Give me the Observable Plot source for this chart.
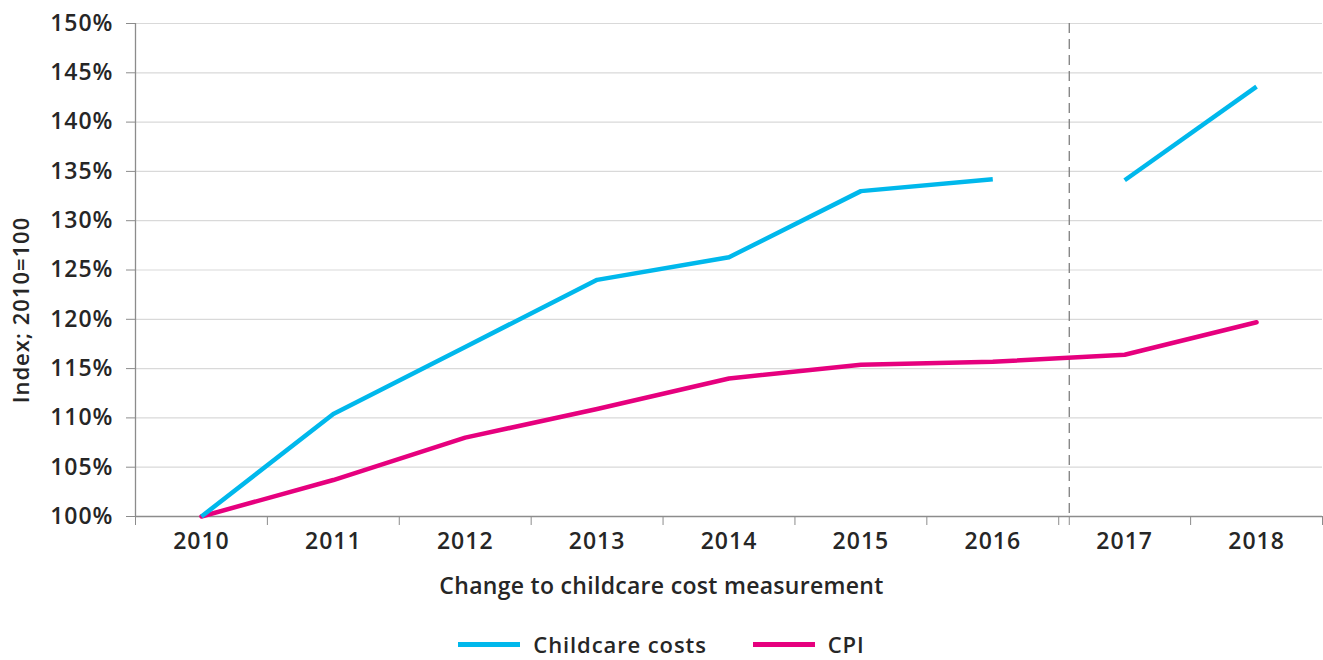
<!DOCTYPE html>
<html>
<head>
<meta charset="utf-8">
<script src="https://cdn.jsdelivr.net/npm/d3@7"></script>
<script src="https://cdn.jsdelivr.net/npm/@observablehq/plot@0.6"></script>
<style>
  html, body { margin: 0; background: #fff; font-family: "Open Sans", Lato, sans-serif; overflow: hidden; }
  #wrap { position: relative; width: 1323px; height: 660px; }
  #chart { position: absolute; left: 0; top: 0; }
  #xlabel { position: absolute; left: 0; top: 572px; width: 1323px; text-align: center; font-weight: 600; font-size: 23px; letter-spacing: 0.3px; color: #262626; line-height: 26px; }
  #legend { position: absolute; left: 0; top: 631px; width: 1323px; display: flex; justify-content: center; align-items: center; font-size: 22px; letter-spacing: 0.9px; font-weight: 600; color: #262626; line-height: 26px; }
  .item { display: flex; align-items: center; margin: 0 23px; }
  .sw { width: 62px; height: 5px; margin-right: 13px; }
</style>
</head>
<body>
<div id="wrap">
<div id="chart"></div>
<div id="xlabel">Change to childcare cost measurement</div>
<div id="legend"></div>
</div>
<script>
const years = [2010, 2011, 2012, 2013, 2014, 2015, 2016, 2017, 2018];
const childcare = [100, 110.4, 117.2, 124.0, 126.3, 133.0, 134.2, 134.1, 143.6];
const cpi = [100, 103.7, 108.0, 110.9, 114.0, 115.4, 115.7, 116.4, 119.7];
const seriesNames = ["Childcare costs", "CPI"];
const seriesColors = ["#00B8EC", "#E6007E"];
const measurementChange = 2016.58; // position of the dashed break
const yTicks = [100, 105, 110, 115, 120, 125, 130, 135, 140, 145, 150];

const rows = years.map((yr, i) => ({year: yr, value: childcare[i], series: seriesNames[0], seg: yr < measurementChange ? "a" : "b"}));
const cpiRows = years.map((yr, i) => ({year: yr, value: cpi[i], series: seriesNames[1]}));

const boundaries = d3.range(years[0] - 0.5, years[years.length - 1] + 1, 1).concat([measurementChange]);

const axisColor = "#8c8c8c";

const plot = Plot.plot({
  width: 1323,
  height: 560,
  marginLeft: 135,
  marginRight: 1,
  marginTop: 23,
  marginBottom: 44,
  style: {fontFamily: "'Open Sans', Lato, sans-serif", fontSize: "23px", fontWeight: 600, letterSpacing: "1px", color: "#262626", background: "#fff"},
  x: {domain: [years[0] - 0.5, years[years.length - 1] + 0.5], axis: null},
  y: {domain: [100, 150], axis: null},
  marks: [
    Plot.gridY(yTicks, {stroke: "#d9d9d9", strokeOpacity: 1, strokeWidth: 1.2}),
    Plot.ruleX([measurementChange], {stroke: "#7f7f7f", strokeWidth: 1.3, strokeDasharray: "10,6"}),
    Plot.axisY(yTicks, {tickFormat: d => d + "%", tickSize: 9, tickPadding: 13, stroke: axisColor, label: null, fill: "#262626"}),
    Plot.axisX(boundaries, {tickFormat: () => "", tickSize: 9, stroke: axisColor, label: null}),
    Plot.axisX(years, {tickFormat: d => String(d), tickSize: 0, tickPadding: 16, label: null, fill: "#262626"}),
    Plot.ruleX([years[0] - 0.5], {stroke: axisColor, strokeWidth: 1.3}),
    Plot.ruleY([100], {stroke: axisColor, strokeWidth: 1.3}),
    Plot.text(["Index; 2010=100"], {frameAnchor: "left", textAnchor: "middle", rotate: -90, dx: -114, dy: 40, fontSize: 22, fill: "#262626"}),
    Plot.line(cpiRows, {x: "year", y: "value", stroke: seriesColors[1], strokeWidth: 4.5, strokeLinejoin: "round"}),
    Plot.line(rows, {x: "year", y: "value", z: "seg", stroke: seriesColors[0], strokeWidth: 4.5, strokeLinecap: "butt", strokeLinejoin: "round"})
  ]
});
document.getElementById("chart").appendChild(plot);

const legend = document.getElementById("legend");
seriesNames.forEach((name, i) => {
  const item = document.createElement("div");
  item.className = "item";
  const sw = document.createElement("div");
  sw.className = "sw";
  sw.style.background = seriesColors[i];
  const t = document.createElement("span");
  t.textContent = name;
  item.appendChild(sw);
  item.appendChild(t);
  legend.appendChild(item);
});
</script>
</body>
</html>
